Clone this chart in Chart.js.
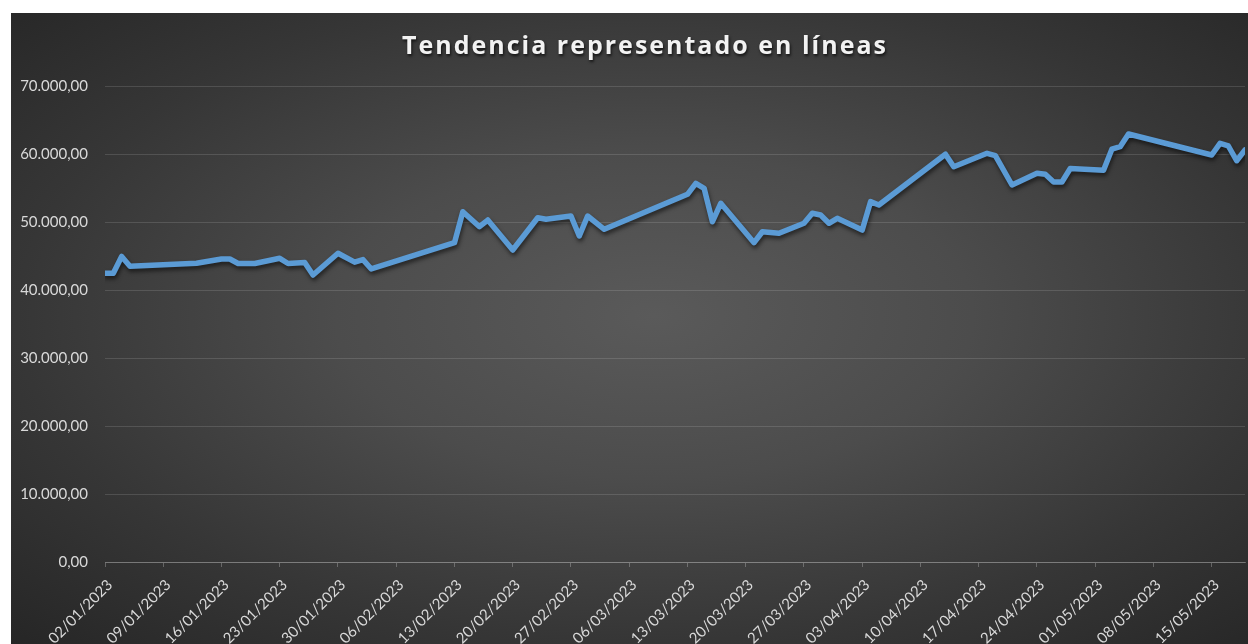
<!DOCTYPE html>
<html><head><meta charset="utf-8">
<script src="https://cdn.jsdelivr.net/npm/chart.js@4.4.0/dist/chart.umd.min.js"></script>
<style>
html,body{margin:0;padding:0;background:#fff;width:1248px;height:644px;overflow:hidden}
#wrap{position:absolute;left:11px;top:13px;width:1237px;height:631px;
background:radial-gradient(ellipse farthest-corner at 52% 48%, #5a5a5a 0%, #4c4c4c 35%, #363636 70%, #262626 100%);}
canvas{display:block}
</style></head><body>
<div id="wrap"><canvas id="c" width="1237" height="631"></canvas></div>
<script>
const titleText = 'Tendencia representado en líneas';
const dates = ['02/01/2023','03/01/2023','04/01/2023','05/01/2023','13/01/2023','16/01/2023','17/01/2023','18/01/2023','20/01/2023','23/01/2023','24/01/2023','26/01/2023','27/01/2023','30/01/2023','01/02/2023','02/02/2023','03/02/2023','13/02/2023','14/02/2023','16/02/2023','17/02/2023','20/02/2023','23/02/2023','24/02/2023','27/02/2023','28/02/2023','01/03/2023','03/03/2023','13/03/2023','14/03/2023','15/03/2023','16/03/2023','17/03/2023','21/03/2023','22/03/2023','24/03/2023','27/03/2023','28/03/2023','29/03/2023','30/03/2023','31/03/2023','03/04/2023','04/04/2023','05/04/2023','13/04/2023','14/04/2023','18/04/2023','19/04/2023','21/04/2023','24/04/2023','25/04/2023','26/04/2023','27/04/2023','28/04/2023','02/05/2023','03/05/2023','04/05/2023','05/05/2023','15/05/2023','16/05/2023','17/05/2023','18/05/2023','19/05/2023'];
const values = [42450,42450,44930,43490,43930,44560,44560,43900,43900,44660,43900,44040,42200,45400,44090,44470,43090,46960,51510,49310,50290,45880,50630,50400,50880,47940,50880,48930,54070,55690,54960,50040,52750,46960,48570,48340,49810,51280,51030,49810,50540,48820,52990,52500,59960,58130,60100,59750,55440,57160,57010,55880,55880,57870,57600,60700,61070,62940,59850,61570,61180,59010,60590];
const xTickLabels = ['02/01/2023','09/01/2023','16/01/2023','23/01/2023','30/01/2023','06/02/2023','13/02/2023','20/02/2023','27/02/2023','06/03/2023','13/03/2023','20/03/2023','27/03/2023','03/04/2023','10/04/2023','17/04/2023','24/04/2023','01/05/2023','08/05/2023','15/05/2023'];
const yTickValues = [0,10000,20000,30000,40000,50000,60000,70000];
const xStart = '02/01/2023';
const xEnd = '19/05/2023';

function toDate(s){const p=s.split('/');return Date.UTC(+p[2],+p[1]-1,+p[0]);}
const base = toDate(xStart);
function dayOf(s){return Math.round((toDate(s)-base)/86400000);}
function fmtDay(d){const t=new Date(base+d*86400000);const dd=String(t.getUTCDate()).padStart(2,'0');const mm=String(t.getUTCMonth()+1).padStart(2,'0');return dd+'/'+mm+'/'+t.getUTCFullYear();}
function fmtNum(v){const s=Math.abs(v).toFixed(2).split('.');const i=s[0].replace(/\B(?=(\d{3})+(?!\d))/g,'.');return (v<0?'-':'')+i+','+s[1];}

const FONT = 'Lato, "Open Sans", sans-serif';
const shadowPlugin = {
  id:'lineShadow',
  beforeDatasetsDraw(chart){const c=chart.ctx;c.save();c.shadowColor='rgba(0,0,0,0.55)';c.shadowBlur=4;c.shadowOffsetX=1;c.shadowOffsetY=3;},
  afterDatasetsDraw(chart){chart.ctx.restore();}
};
const titlePlugin = {
  id:'customTitle',
  afterDraw(chart){const c=chart.ctx;c.save();c.font='bold 25px "Open Sans", sans-serif';
    try{c.letterSpacing='2px';}catch(e){}
    c.fillStyle='#f2f2f2';c.textAlign='center';c.textBaseline='alphabetic';
    c.shadowColor='rgba(0,0,0,0.7)';c.shadowBlur=3;c.shadowOffsetX=1;c.shadowOffsetY=2;
    c.fillText(titleText,634,41);c.restore();}
};

new Chart(document.getElementById('c'),{
  type:'line',
  data:{datasets:[{
    data:dates.map((d,i)=>({x:dayOf(d),y:values[i]})),
    borderColor:'#5b9bd5',borderWidth:5.5,pointRadius:0,pointHoverRadius:0,tension:0,
    borderJoinStyle:'round',borderCapStyle:'round',fill:false
  }]},
  options:{
    responsive:false,animation:false,devicePixelRatio:1,
    layout:{padding:{top:73,left:0,right:3,bottom:0}},
    plugins:{legend:{display:false},title:{display:false},tooltip:{enabled:false}},
    scales:{
      x:{type:'linear',min:dayOf(xStart),max:dayOf(xEnd),
        afterBuildTicks(s){s.ticks=xTickLabels.map(l=>({value:dayOf(l)}));},
        afterFit(s){s.height=82;},
        grid:{display:true,drawOnChartArea:false,drawTicks:true,tickLength:5,color:'rgba(255,255,255,0.25)'},
        border:{display:true,color:'rgba(255,255,255,0.25)',width:1},
        ticks:{autoSkip:false,minRotation:45,maxRotation:45,padding:9,labelOffset:5,color:'#d9d9d9',font:{family:FONT,size:15},
          callback:(v)=>fmtDay(v)}
      },
      y:{min:0,max:70000,
        afterBuildTicks(s){s.ticks=yTickValues.map(v=>({value:v}));},
        afterFit(s){s.width=94;},
        grid:{color:'rgba(255,255,255,0.13)',drawTicks:false},
        border:{display:false},
        ticks:{padding:17,color:'#d9d9d9',font:{family:FONT,size:15},callback:(v)=>fmtNum(v)}
      }
    }
  },
  plugins:[shadowPlugin,titlePlugin]
});
</script>
</body></html>
